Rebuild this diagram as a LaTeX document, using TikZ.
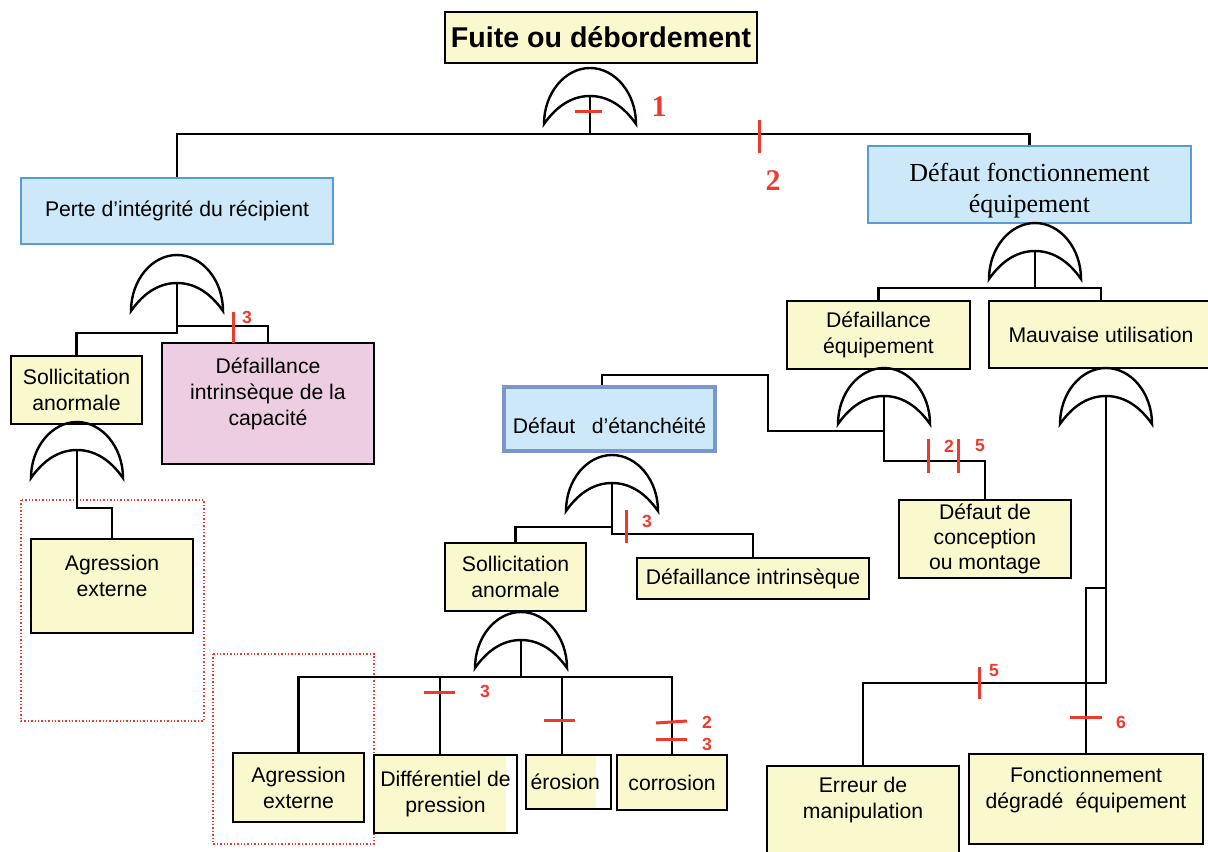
\documentclass[tikz,border=0pt]{standalone}
\usepackage{fontspec}
\setmainfont{Liberation Sans}
\newfontfamily\timesfont{Liberation Serif}
\usetikzlibrary{positioning}
\definecolor{evtyellow}{HTML}{FAF8CD}
\definecolor{evtblue}{HTML}{CDE9F9}
\definecolor{evtblueline}{HTML}{5B9BD5}
\definecolor{evtblueline2}{HTML}{7B96CC}
\definecolor{evtpink}{HTML}{EDCDE2}
\definecolor{barred}{HTML}{EE3A2C}
\tikzset{
  evtbox/.style={rectangle, draw=black, line width=1.3pt, fill=evtyellow,
                 align=center, inner sep=1pt, font=\fontsize{10.6}{13}\selectfont},
  topbox/.style={evtbox, font=\fontsize{14.3}{16}\selectfont\bfseries},
  midbox/.style={evtbox, draw=evtblueline, fill=evtblue},
  pinkbox/.style={evtbox, fill=evtpink},
  partfill/.style={fill=white, path picture={
      \fill[evtyellow] (path picture bounding box.south west)
        rectangle ([xshift=-#1]path picture bounding box.north east);}},
  zone/.style={draw=barred, densely dotted, line width=0.7pt},
  wire/.style={draw=black, line width=1.2pt},
  gateline/.style={draw=black, line width=1.2pt},
  bar/.style={draw=barred, line width=1.5pt},
  barlab/.style={text=barred, font=\fontsize{8.8}{9}\selectfont\bfseries, inner sep=0pt},
  bigbarlab/.style={text=barred, font=\timesfont\fontsize{15}{15}\selectfont\bfseries, inner sep=0pt},
  orgate/.pic={
    \draw[gateline] (-46,56) .. controls (-46,25) and (-25,0) .. (0,0)
      .. controls (25,0) and (46,25) .. (46,56)
      .. controls (32,36) and (16,28) .. (0,28)
      .. controls (-16,28) and (-32,36) .. cycle;
    \coordinate (-out) at (0,28);
  },
}

\begin{document}
\begin{tikzpicture}[x=0.5pt, y=-0.5pt]
  \useasboundingbox (0,0) rectangle (1208,851);

  % --- zones ---
  \draw[zone] (21,500) rectangle (204,721);
  \draw[zone] (213,654) rectangle (374,844);

  % --- events ---
  \node[topbox, minimum width=156pt, minimum height=25.5pt] (fuite) at (601,37.5) {Fuite ou débordement};
  \node[midbox, minimum width=156pt, minimum height=33pt] (perte) at (177,211) {Perte d’intégrité du récipient};
  \node[midbox, font=\timesfont\fontsize{13}{15.5}\selectfont, text height=31pt,
        minimum width=161.5pt, minimum height=38.5pt] (dfe) at (1029.5,184.5) {Défaut fonctionnement\\équipement};
  \node[evtbox, minimum width=65.5pt, minimum height=34pt] (sol1) at (76.5,390) {Sollicitation\\anormale};
  \node[pinkbox, minimum width=106pt, minimum height=60.5pt, text depth=12pt] (dcap) at (268,403.5) {Défaillance\\intrinsèque de la\\capacité};
  \node[evtbox, minimum width=81pt, minimum height=47pt, text depth=10.5pt] (agr1) at (112,586) {Agression\\externe};
  \node[evtbox, minimum width=91.5pt, minimum height=34pt] (deq) at (878.5,335) {Défaillance\\équipement};
  \node[evtbox, minimum width=112pt, minimum height=33.5pt] (mau) at (1101,334.5) {Mauvaise utilisation};
  \node[midbox, draw=evtblueline2, line width=1.6pt, minimum width=105.5pt, minimum height=32pt,
        text height=15pt] (det) at (609.5,419) {Défaut\hspace{0.5em} d’étanchéité};
  \node[evtbox, minimum width=86pt, minimum height=39pt, font=\fontsize{10.6}{12.5}\selectfont] (dcon) at (985,539) {Défaut de\\conception\\ou montage};
  \node[evtbox, minimum width=70.5pt, minimum height=34pt] (sol2) at (515.5,577) {Sollicitation\\anormale};
  \node[evtbox, minimum width=116pt, minimum height=20.5pt] (dint) at (753,578.5) {Défaillance intrinsèque};
  \node[evtbox, minimum width=65.5pt, minimum height=34.5pt] (agr2) at (298.5,787.5) {Agression\\externe};
  \node[evtbox, partfill=5.5pt, minimum width=71.5pt, minimum height=39pt] (dif) at (445.5,794) {Différentiel de\\pression};
  \node[evtbox, partfill=7.5pt, align=left, text width=38pt, minimum width=42.5pt, minimum height=27pt] (ero) at (568.5,782) {érosion};
  \node[evtbox, minimum width=55pt, minimum height=27.5pt] (cor) at (672,782.5) {corrosion};
  \node[evtbox, minimum width=96pt, minimum height=48pt, text depth=16pt] (err) at (863,814) {Erreur de\\manipulation};
  \node[evtbox, minimum width=117pt, minimum height=45pt, text depth=11.5pt] (fde) at (1086,799) {Fonctionnement\\dégradé\hspace{0.3em} équipement};

  % --- gates ---
  \pic (gfuite) at (590,68) {orgate};
  \pic (gperte) at (177,255) {orgate};
  \pic (gsol1) at (77,422) {orgate};
  \pic (gdfe) at (1035,223) {orgate};
  \pic (gdeq) at (884,368) {orgate};
  \pic (gmau) at (1106,368) {orgate};
  \pic (gdet) at (612,455) {orgate};
  \pic (gsol2) at (521,612) {orgate};

  % --- junctions ---
  \coordinate (jfuite) at (590,134);
  \coordinate (jperte1) at (177,326);
  \coordinate (jperte2) at (177,333);
  \coordinate (jsol1) at (77,508);
  \coordinate (jdfe) at (1035,288);
  \coordinate (jdeq1) at (884,431);
  \coordinate (jdeq2) at (884,461);
  \coordinate (bdeq) at (768,375);
  \coordinate (jmau1) at (1106,588);
  \coordinate (jmau2) at (1106,683);
  \coordinate (jdet1) at (612,527);
  \coordinate (jdet2) at (612,534);
  \coordinate (jsol2) at (521,677);

  % --- wires ---
  \draw[wire] (gfuite-out) -- (jfuite);
  \draw[wire] (jfuite) -| (perte.north);
  \draw[wire] (jfuite) -| (dfe.north);

  \draw[wire] (gperte-out) -- (jperte2) -| (sol1.north);
  \draw[wire] (jperte1) -| (dcap.north);
  \draw[wire] (gsol1-out) -- (jsol1) -| (agr1.north);

  \draw[wire] (gdfe-out) -- (jdfe);
  \draw[wire] (jdfe) -| (deq.north);
  \draw[wire] (jdfe) -| (mau.north);

  \draw[wire] (gdeq-out) -- (jdeq2) -| (dcon.north);
  \draw[wire] (jdeq1) -| (bdeq) -| ([xshift=-3.75pt]det.north);

  \draw[wire] (gmau-out) -- (jmau2) -| (err.north);
  \draw[wire] (jmau1) -| (fde.north);

  \draw[wire] (gdet-out) -- (jdet2) -| (dint.north);
  \draw[wire] (jdet1) -| (sol2.north);

  \draw[wire] (gsol2-out) -- (jsol2);
  \draw[wire] (jsol2) -| (agr2.north);
  \draw[wire] (jsol2) -| ([xshift=-2.75pt]dif.north);
  \draw[wire] (jsol2) -| ([xshift=-3.25pt]ero.north);
  \draw[wire] (jsol2) -| (cor.north);

  % --- bars ---
  \draw[bar] (575,111) -- (602,111);
  \node[bigbarlab] (n1) at (659,107) {1};
  \draw[bar] (759,120) -- (759,153);
  \node[bigbarlab] (n2) at (773,181) {2};
  \draw[bar] (233,312) -- (233,343);
  \node[barlab] (n3a) at (247,317) {3};
  \draw[bar] (626,510) -- (626,543);
  \node[barlab] (n3b) at (647,521) {3};
  \draw[bar] (928,439) -- (928,473);
  \draw[bar] (958,439) -- (958,473);
  \node[barlab] (n2a) at (949,446) {2};
  \node[barlab] (n5a) at (980,446) {5};
  \draw[bar] (979,667) -- (979,699);
  \node[barlab] (n5b) at (994,671) {5};
  \draw[bar] (1070,717) -- (1102,717);
  \node[barlab] (n6) at (1121,722) {6};
  \draw[bar] (424,692) -- (455,692);
  \node[barlab] (n3c) at (485,691) {3};
  \draw[bar] (544,720) -- (575,720);
  \draw[bar] (656,723) -- (687,721);
  \draw[bar] (656,739) -- (687,739);
  \node[barlab] (n2b) at (707,722) {2};
  \node[barlab] (n3d) at (707,744) {3};

\end{tikzpicture}
\end{document}
